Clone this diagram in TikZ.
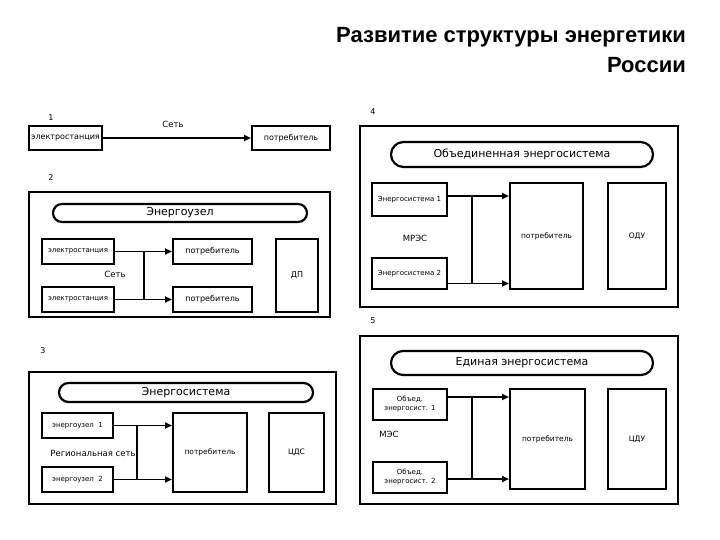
\documentclass[tikz,border=0pt]{standalone}
\usepackage{fontspec}
\setmainfont{DejaVu Sans}
\newfontfamily\titlefont{Liberation Sans}
\usetikzlibrary{arrows.meta,shapes.misc}
\tikzset{
  bx/.style={draw, line width=2pt, inner sep=1pt, align=center, font=\fontsize{8}{9}\selectfont},
  stad/.style={draw, line width=2.2pt, rounded rectangle, inner sep=0pt, font=\fontsize{11}{12}\selectfont},
  outer/.style={draw, line width=2.2pt},
  lbl/.style={inner sep=0pt, font=\fontsize{8.5}{9}\selectfont},
  num/.style={inner sep=0pt, font=\fontsize{8}{8}\selectfont},
  arr/.style={line width=1.8pt, -{Triangle[length=7pt,width=6pt]}},
  ln/.style={line width=1.8pt}
}
\begin{document}
\begin{tikzpicture}[x=1pt,y=-1pt]
\useasboundingbox (0,0) rectangle (720,540);
% title
\node[anchor=east, inner sep=0pt, font=\titlefont\bfseries\fontsize{22}{24}\selectfont] (t1) at (686,37) {Развитие структуры энергетики};
\node[anchor=east, inner sep=0pt, font=\titlefont\bfseries\fontsize{22}{24}\selectfont] (t2) at (686,65) {России};

% ---------- 1
\node[num] (n1) at (51,118) {1};
\node[lbl] (s1) at (173,124) {Сеть};
\node[bx, minimum width=73pt, minimum height=24pt] (e1) at (65.5,138) {электростанция};
\node[bx, minimum width=78pt, minimum height=24pt] (p1) at (291,138) {потребитель};
\draw[arr] (e1.east) -- (p1.west);

% ---------- 2
\node[num] (n2) at (51,178) {2};
\node[outer, minimum width=301pt, minimum height=125pt] (b2) at (179.5,254.5) {};
\node[stad, minimum width=254pt, minimum height=18pt] (st2) at (180,213) {Энергоузел};
\node[bx, minimum width=72pt, minimum height=25pt, font=\fontsize{7}{8}\selectfont] (e2a) at (78,251.5) {электростанция};
\node[bx, minimum width=79pt, minimum height=25pt] (p2a) at (212.5,251.5) {потребитель};
\node[bx, minimum width=72pt, minimum height=25pt, font=\fontsize{7}{8}\selectfont] (e2b) at (78,299.5) {электростанция};
\node[bx, minimum width=79pt, minimum height=25pt] (p2b) at (212.5,299.5) {потребитель};
\node[bx, minimum width=42pt, minimum height=73pt] (dp) at (297,275.5) {ДП};
\node[lbl] (s2) at (115,274) {Сеть};
\coordinate (j2) at (144,0);
\draw[arr] (e2a.east) -- (p2a.west);
\draw[arr] (e2b.east) -- (p2b.west);
\draw[ln] (j2 |- e2a.east) -- (j2 |- e2b.east);

% ---------- 3
\node[num] (n3) at (43,351) {3};
\node[outer, minimum width=307pt, minimum height=132pt] (b3) at (182.5,438) {};
\node[stad, minimum width=254pt, minimum height=19pt] (st3) at (186,392.5) {Энергосистема};
\node[bx, minimum width=71pt, minimum height=25pt, font=\fontsize{7}{8}\selectfont] (u1) at (77.5,425.5) {энергоузел\ \ 1};
\node[bx, minimum width=71pt, minimum height=25pt, font=\fontsize{7}{8}\selectfont] (u2) at (77.5,479.5) {энергоузел\ \ 2};
\node[bx, minimum width=74pt, minimum height=79pt, font=\fontsize{7.5}{8}\selectfont] (p3) at (210,452.5) {потребитель};
\node[bx, minimum width=55pt, minimum height=79pt, font=\fontsize{7.5}{8}\selectfont] (cds) at (296.5,452.5) {ЦДС};
\node[lbl] (s3) at (93,453) {Региональная сеть};
\coordinate (j3) at (137,0);
\draw[arr] (u1.east) -- (u1.east -| p3.west);
\draw[arr] (u2.east) -- (u2.east -| p3.west);
\draw[ln] (j3 |- u1.east) -- (j3 |- u2.east);

% ---------- 4
\node[num] (n4) at (373,112) {4};
\node[outer, minimum width=318pt, minimum height=181pt] (b4) at (519,216.5) {};
\node[stad, minimum width=262pt, minimum height=25pt] (st4) at (522,154.5) {Объединенная энергосистема};
\node[bx, minimum width=75pt, minimum height=33pt, font=\fontsize{7}{8}\selectfont] (es1) at (409.5,199.5) {Энергосистема 1};
\node[bx, minimum width=75pt, minimum height=31pt, font=\fontsize{7}{8}\selectfont] (es2) at (409.5,273.5) {Энергосистема 2};
\node[bx, minimum width=73pt, minimum height=106pt, font=\fontsize{7.5}{8}\selectfont] (p4) at (546.5,236) {потребитель};
\node[bx, minimum width=58pt, minimum height=106pt, font=\fontsize{7.5}{8}\selectfont] (odu) at (637,236) {ОДУ};
\node[lbl] (s4) at (415,238) {МРЭС};
\coordinate (j4) at (472,0);
\coordinate (a4) at ([yshift=3.5pt]es1.east);
\coordinate (c4) at ([yshift=-10pt]es2.east);
\draw[arr] (a4) -- (a4 -| p4.west);
\draw[arr] (c4) -- (c4 -| p4.west);
\draw[ln] (j4 |- a4) -- (j4 |- c4);

% ---------- 5
\node[num] (n5) at (373,321) {5};
\node[outer, minimum width=318pt, minimum height=168pt] (b5) at (519,420) {};
\node[stad, minimum width=262pt, minimum height=24pt] (st5) at (522,363) {Единая энергосистема};
\node[bx, minimum width=74pt, minimum height=31pt, font=\fontsize{7}{9}\selectfont] (oe1) at (410,404.5) {Объед.\\энергосист. 1};
\node[bx, minimum width=74pt, minimum height=31pt, font=\fontsize{7}{9}\selectfont] (oe2) at (410,477.5) {Объед.\\энергосист. 2};
\node[bx, minimum width=75pt, minimum height=100pt, font=\fontsize{7.5}{8}\selectfont] (p5) at (547.5,439) {потребитель};
\node[bx, minimum width=58pt, minimum height=100pt, font=\fontsize{7.5}{8}\selectfont] (cdu) at (637,439) {ЦДУ};
\node[lbl] (s5) at (389,434) {МЭС};
\coordinate (j5) at (472,0);
\coordinate (a5) at ([yshift=7.5pt]oe1.east);
\coordinate (c5) at ([yshift=-1.5pt]oe2.east);
\draw[arr] (a5) -- (a5 -| p5.west);
\draw[arr] (c5) -- (c5 -| p5.west);
\draw[ln] (j5 |- a5) -- (j5 |- c5);
\end{tikzpicture}
\end{document}
